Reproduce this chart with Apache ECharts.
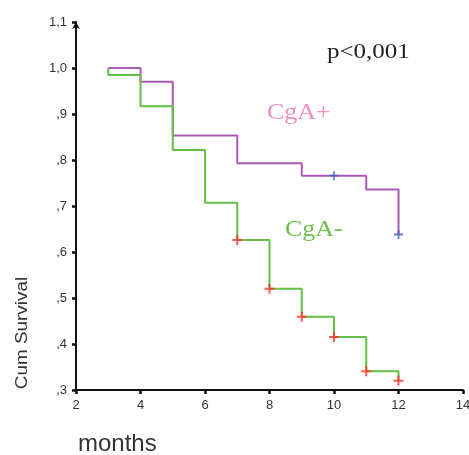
<!DOCTYPE html>
<html>
<head>
<meta charset="utf-8">
<script src="https://cdn.jsdelivr.net/npm/echarts@6/dist/echarts.min.js"></script>
<style>
  html, body { margin: 0; padding: 0; background: #fff; }
  #chart { width: 469px; height: 455px; }
</style>
</head>
<body>
<div id="chart"></div>
<script>
// Kaplan-Meier survival by CgA status (months)
const cgaPosTime = [3, 4, 5, 7, 9, 11, 12];
const cgaPosSurv = [1.0, 0.970, 0.853, 0.793, 0.766, 0.736, 0.638];
const cgaPosCensTime = [10, 12];
const cgaPosCensSurv = [0.766, 0.638];

const cgaNegTime = [3, 3, 4, 5, 6, 7, 8, 9, 10, 11, 12];
const cgaNegSurv = [1.0, 0.985, 0.917, 0.822, 0.707, 0.626, 0.520, 0.459, 0.415, 0.341, 0.320];
const cgaNegCensTime = [7, 8, 9, 10, 11, 12];
const cgaNegCensSurv = [0.626, 0.520, 0.459, 0.415, 0.341, 0.320];

const yTickLabels = [',3', ',4', ',5', ',6', ',7', ',8', ',9', '1,0', '1,1'];

const zip = (xs, ys) => xs.map((x, i) => [x, ys[i]]);

// filled plus-sign marker for censored cases
const plusPath = 'path://M4,0h2v4h4v2h-4v4h-2v-4h-4v-2h4z';

const chart = echarts.init(document.getElementById('chart'), null, { renderer: 'canvas' });

const sans = 'Liberation Sans';
const serif = 'Liberation Serif';

chart.setOption({
  animation: false,
  backgroundColor: '#fff',
  grid: { left: 76, right: 6, top: 22, bottom: 65, containLabel: false, outerBoundsMode: 'none' },
  xAxis: {
    type: 'value', min: 2, max: 14, interval: 2,
    splitLine: { show: false },
    axisLine: { onZero: false, lineStyle: { color: '#111', width: 2 } },
    axisTick: { length: 4, lineStyle: { color: '#111', width: 2.5 } },
    axisLabel: { margin: 9, fontFamily: sans, fontSize: 13, color: '#333', hideOverlap: false }
  },
  yAxis: {
    type: 'value', min: 0.3, max: 1.1, interval: 0.1,
    splitLine: { show: false },
    axisLine: { onZero: false, symbol: ['none', 'arrow'], symbolSize: [6, 7],
      lineStyle: { color: '#111', width: 2 } },
    axisTick: { length: 4, lineStyle: { color: '#111', width: 2.5 } },
    axisLabel: {
      margin: 9, fontFamily: sans, fontSize: 13, color: '#333',
      formatter: v => yTickLabels[Math.round((v - 0.3) * 10)]
    }
  },
  series: [
    {
      name: 'CgA+', type: 'line', step: 'end', showSymbol: false,
      data: zip(cgaPosTime, cgaPosSurv),
      lineStyle: { color: '#ad58b5', width: 2 }
    },
    {
      name: 'CgA-', type: 'line', step: 'end', showSymbol: false,
      data: zip(cgaNegTime, cgaNegSurv),
      lineStyle: { color: '#62c046', width: 2 }
    },
    {
      name: 'CgA+ censored', type: 'scatter', symbol: plusPath, symbolSize: 9,
      data: zip(cgaPosCensTime, cgaPosCensSurv),
      itemStyle: { color: '#3d5fbf' }, z: 5
    },
    {
      name: 'CgA- censored', type: 'scatter', symbol: plusPath, symbolSize: 10,
      data: zip(cgaNegCensTime, cgaNegCensSurv),
      itemStyle: { color: '#ff3030' }, z: 5
    }
  ],
  graphic: [
    {
      type: 'text', x: 327, y: 52, scaleX: 1.19,
      style: { text: 'p<0,001', font: '21px "' + serif + '"', fill: '#222',
        textAlign: 'left', textVerticalAlign: 'middle' }
    },
    {
      type: 'text', x: 267, y: 113, scaleX: 1.13,
      style: { text: 'CgA+', font: '23px "' + serif + '"', fill: '#ee90c4',
        textAlign: 'left', textVerticalAlign: 'middle' }
    },
    {
      type: 'text', x: 285, y: 230, scaleX: 1.13,
      style: { text: 'CgA-', font: '23px "' + serif + '"', fill: '#6cc04a',
        textAlign: 'left', textVerticalAlign: 'middle' }
    },
    {
      type: 'text', x: 78, y: 444,
      style: { text: 'months', font: '24px "' + sans + '"', fill: '#333',
        textAlign: 'left', textVerticalAlign: 'middle' }
    },
    {
      type: 'text', x: 22.5, y: 333, rotation: Math.PI / 2, scaleX: 1.18,
      style: { text: 'Cum Survival', font: '16px "' + sans + '"', fill: '#333',
        textAlign: 'center', textVerticalAlign: 'middle' }
    }
  ]
});
</script>
</body>
</html>
